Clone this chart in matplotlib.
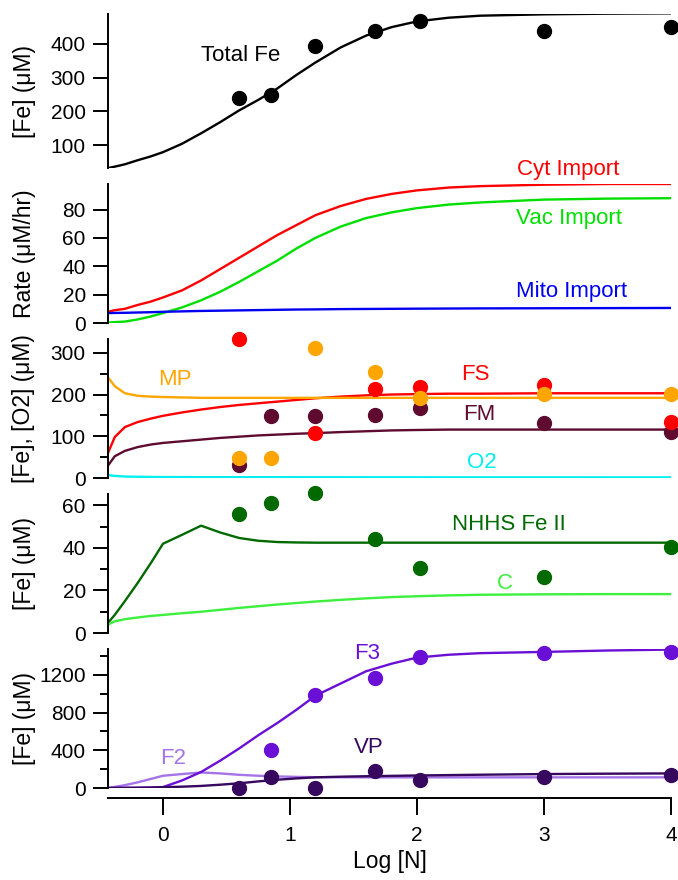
import matplotlib
matplotlib.use('Agg')
import matplotlib.pyplot as plt
import numpy as np
from matplotlib.ticker import MultipleLocator

plt.rcParams['font.family'] = ['Liberation Sans', 'DejaVu Sans']

# Datos (Log [N])
x_model = [-0.43, -0.38, -0.3, -0.2, -0.1, 0.0, 0.15, 0.3, 0.45, 0.6, 0.75, 0.9,
           1.05, 1.2, 1.4, 1.6, 1.8, 2.0, 2.25, 2.5, 3.0, 3.5, 4.0]
x_data = [0.6, 0.85, 1.2, 1.67, 2.02, 3.0, 4.0]

# panel 1: hierro total
total_fe = [32, 36, 43, 55, 66, 79, 104, 135, 168, 203, 234, 268,
            308, 345, 390, 425, 450, 467, 478, 484, 488, 490, 491]
total_fe_pts = [240, 248, 394, 438, 468, 438, 450]

# panel 2: velocidades de importación
cyt_import = [8, 9, 10, 12.7, 15, 18, 23, 30, 38, 46, 54, 62,
              69, 76, 82.5, 87.5, 91, 93.5, 95.5, 96.5, 97.5, 98, 98]
vac_import = [0.3, 0.6, 1, 2.5, 4.5, 7, 11, 16, 22, 29, 36.5, 44,
              52.5, 60, 68, 74, 78, 81, 83.5, 85, 87, 87.7, 88]
mito_import = [7, 7.1, 7.2, 7.4, 7.6, 7.9, 8.2, 8.5, 8.7, 8.9, 9.1, 9.3,
               9.5, 9.6, 9.8, 9.9, 10, 10.1, 10.2, 10.3, 10.4, 10.5, 10.6]

# panel 3: MP, FS, FM, O2
mp = [240, 220, 203, 197, 195, 194, 193, 192, 192, 192, 192, 192,
      192, 192, 192, 192, 192, 192, 192, 192, 192, 192, 192]
fs = [62, 98, 122, 134, 142, 149, 157, 164, 170, 175, 179, 183,
      187, 191, 195, 198, 200, 201, 202, 202, 203, 203, 203]
fm = [31, 52, 65, 74, 80, 84, 88, 92, 96, 99, 102, 104,
      106, 107.5, 110, 112, 114, 115, 116, 116, 116, 116, 116]
o2 = [7, 5, 3.5, 3, 2.5, 2.3, 2.1, 2, 2, 2, 1.9, 1.9,
      1.8, 1.8, 1.8, 1.7, 1.7, 1.7, 1.6, 1.6, 1.6, 1.5, 1.5]
fs_pts = [333, np.nan, 108, 213, 218, 223, 134]
mp_pts = [48, 48, 312, 254, 192, 201, 201]
fm_pts = [31, 149, 149, 150, 168, 132, 110]

# panel 4: NHHS Fe II y C
nhhs = [5, 8.5, 15, 23.5, 32.5, 42, 46.2, 50.5, 47.3, 44.7, 43.4, 42.8,
        42.6, 42.5, 42.5, 42.5, 42.5, 42.5, 42.5, 42.5, 42.5, 42.5, 42.5]
c_fe = [4, 5.5, 6.5, 7.3, 8, 8.5, 9.3, 10, 10.9, 11.8, 12.6, 13.4,
        14.1, 14.8, 15.6, 16.3, 16.9, 17.3, 17.7, 18, 18.2, 18.3, 18.3]
nhhs_pts = [56, 61, 66, 44, 30.6, 26.4, 40.5]

# panel 5: F3, F2, VP
f3 = [0, 1, 2, 3, 5, 10, 80, 170, 290, 420, 560, 690,
      830, 980, 1110, 1240, 1320, 1385, 1415, 1432, 1445, 1460, 1470]
f2 = [0, 12, 30, 60, 95, 130, 148, 165, 155, 140, 130, 123,
      118, 115, 114, 113, 113, 113, 113, 113, 113, 113, 113]
vp = [0, 0.5, 1, 2, 4, 8, 14, 22, 35, 50, 70, 88,
      102, 113, 120, 125, 129, 133, 137, 141, 148, 152, 155]
f3_pts = [np.nan, 400, 990, 1170, 1390, 1435, 1445]
vp_pts = [0, 120, 0, 180, 80, 117, 138]

# Colores
red = '#FF0000'
green = '#00E000'
blue = '#0000F0'
orange = '#FFA500'
maroon = '#5E0B2F'
cyan = '#00F0F0'
dkgreen = '#006A00'
ltgreen = '#3CF03C'
purple = '#6A10D6'
ltpurple = '#A474E8'
dkpurple = '#36085E'

# Figura y paneles (posiciones en píxeles)
W, H = 678, 880
fig = plt.figure(figsize=(W / 100, H / 100), dpi=100)
left, right = 108, 671
panels = [(14, 168), (184, 323), (339, 478), (494, 633), (649, 788)]
axes = []
for top, bot in panels:
    ax = fig.add_axes([left / W, 1 - bot / H, (right - left) / W, (bot - top) / H])
    ax.set_xlim(-0.433, 4.0)
    for s in ['top', 'right', 'bottom']:
        ax.spines[s].set_visible(False)
    ax.spines['left'].set_linewidth(1.4)
    ax.tick_params(axis='y', which='major', direction='out', length=11, width=1.4,
                   pad=5, labelsize=15)
    ax.tick_params(axis='y', which='minor', direction='out', length=6, width=1.4)
    ax.tick_params(axis='x', which='both', bottom=False, labelbottom=False)
    axes.append(ax)
ax1, ax2, ax3, ax4, ax5 = axes

lw = 1.7
ms = 10

# Panel 1
ax1.plot(x_model, total_fe, color='black', lw=lw)
ax1.plot(x_data, total_fe_pts, 'o', color='black', ms=ms, clip_on=False)
ax1.set_ylim(32, 489)
ax1.set_yticks([100, 200, 300, 400])
ax1.text(0.61, 367, 'Total Fe', color='black', fontsize=16, ha='center', va='center')

# Panel 2
ax2.plot(x_model, cyt_import, color=red, lw=lw)
ax2.plot(x_model, vac_import, color=green, lw=lw)
ax2.plot(x_model, mito_import, color=blue, lw=lw)
ax2.set_ylim(0, 98)
ax2.set_yticks([0, 20, 40, 60, 80])
ax2.text(3.19, 108, 'Cyt Import', color=red, fontsize=16, ha='center', va='center', clip_on=False)
ax2.text(3.2, 74, 'Vac Import', color=green, fontsize=16, ha='center', va='center')
ax2.text(3.22, 22, 'Mito Import', color=blue, fontsize=16, ha='center', va='center')

# Panel 3
ax3.plot(x_model, o2, color=cyan, lw=lw)
ax3.plot(x_model, fm, color=maroon, lw=lw)
ax3.plot(x_model, fs, color=red, lw=lw)
ax3.plot(x_model, mp, color=orange, lw=lw)
ax3.plot(x_data, fm_pts, 'o', color=maroon, ms=ms, clip_on=False)
ax3.plot(x_data, fs_pts, 'o', color=red, ms=ms, clip_on=False)
ax3.plot(x_data, mp_pts, 'o', color=orange, ms=ms, clip_on=False)
ax3.set_ylim(0, 333)
ax3.set_yticks([0, 100, 200, 300])
ax3.yaxis.set_minor_locator(MultipleLocator(50))
ax3.text(0.09, 237, 'MP', color=orange, fontsize=16, ha='center', va='center')
ax3.text(2.46, 247, 'FS', color=red, fontsize=16, ha='center', va='center')
ax3.text(2.49, 153, 'FM', color=maroon, fontsize=16, ha='center', va='center')
ax3.text(2.51, 36, 'O2', color=cyan, fontsize=16, ha='center', va='center')

# Panel 4
ax4.plot(x_model, nhhs, color=dkgreen, lw=lw)
ax4.plot(x_model, c_fe, color=ltgreen, lw=lw)
ax4.plot(x_data, nhhs_pts, 'o', color=dkgreen, ms=ms, clip_on=False)
ax4.set_ylim(0, 65.4)
ax4.set_yticks([0, 20, 40, 60])
ax4.yaxis.set_minor_locator(MultipleLocator(10))
ax4.text(2.72, 51, 'NHHS Fe II', color=dkgreen, fontsize=16, ha='center', va='center')
ax4.text(2.69, 23.5, 'C', color=ltgreen, fontsize=16, ha='center', va='center')

# Panel 5
ax5.plot(x_model, f2, color=ltpurple, lw=lw)
ax5.plot(x_model, f3, color=purple, lw=lw)
ax5.plot(x_model, vp, color=dkpurple, lw=lw)
ax5.plot(x_data, f3_pts, 'o', color=purple, ms=ms, clip_on=False)
ax5.plot(x_data, vp_pts, 'o', color=dkpurple, ms=ms, clip_on=False)
ax5.set_ylim(0, 1476)
ax5.set_yticks([0, 400, 800, 1200])
ax5.yaxis.set_minor_locator(MultipleLocator(200))
ax5.text(1.61, 1433, 'F3', color=purple, fontsize=16, ha='center', va='center')
ax5.text(0.08, 318, 'F2', color=ltpurple, fontsize=16, ha='center', va='center')
ax5.text(1.62, 425, 'VP', color=dkpurple, fontsize=16, ha='center', va='center')

# Eje x solo en el panel de abajo
ax5.spines['bottom'].set_visible(True)
ax5.spines['bottom'].set_linewidth(1.4)
ax5.spines['bottom'].set_position(('outward', 7))
ax5.set_xticks([0, 1, 2, 3, 4])
ax5.tick_params(axis='x', which='major', bottom=True, labelbottom=True, direction='out',
                length=12, width=1.4, pad=8, labelsize=15)
ax5.set_xlabel('Log [N]', fontsize=16.5, labelpad=4)

# Etiquetas del eje y
ylabels = ['[Fe] (μM)', 'Rate (μM/hr)', '[Fe], [O2] (μM)', '[Fe] (μM)', '[Fe] (μM)']
for (top, bot), lab in zip(panels, ylabels):
    fig.text(24 / W, 1 - (top + bot) / 2 / H, lab, rotation=90, ha='center', va='center',
             fontsize=16.5)

plt.savefig('out.png', dpi=100)
